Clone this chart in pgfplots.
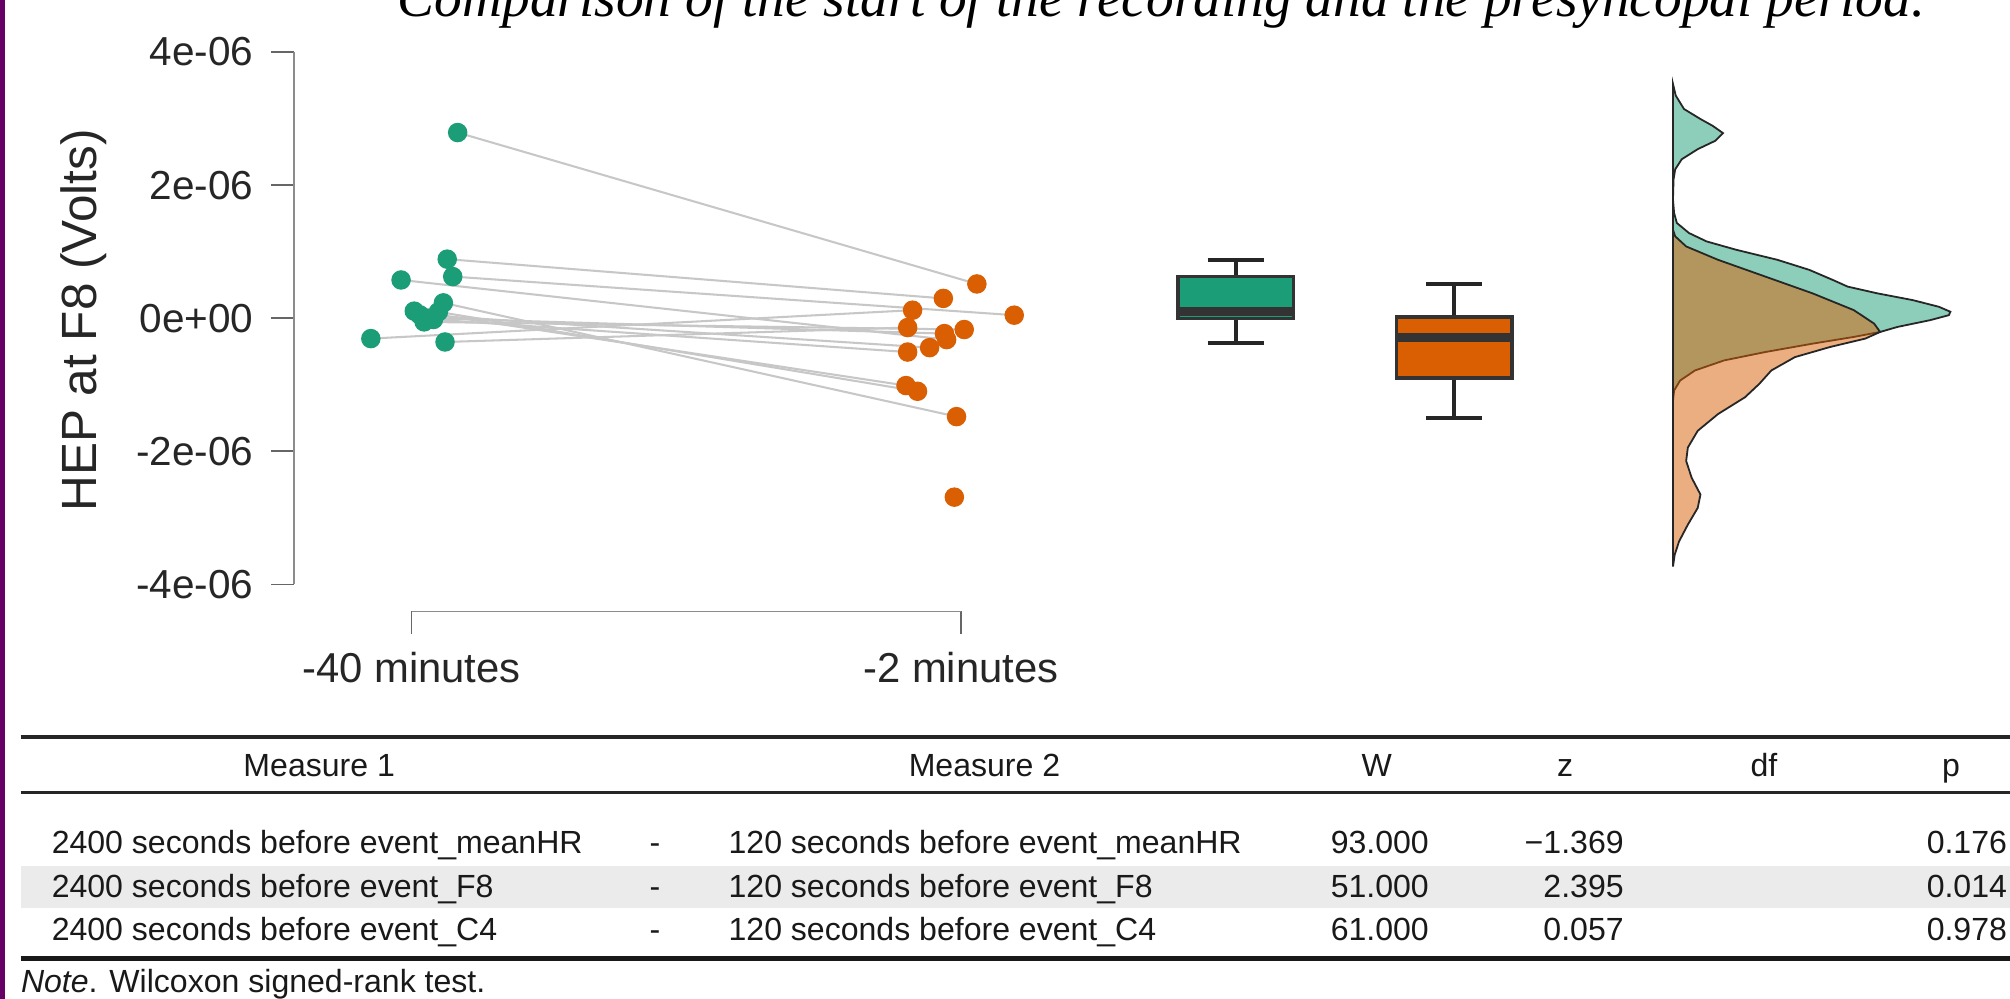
\documentclass[border=0pt]{standalone}
\usepackage{fontspec}
\setmainfont{Liberation Sans}
\newfontfamily\serifit{Liberation Serif}
\usepackage{pgfplots}
\pgfplotsset{compat=1.18}
\usepgfplotslibrary{statistics}
\definecolor{dkgreen}{HTML}{1B9E77}
\definecolor{dkorange}{HTML}{D95F02}
\definecolor{purp}{HTML}{660066}
\definecolor{txt}{HTML}{333333}
\begin{document}
\begin{tikzpicture}
\useasboundingbox (0,0) rectangle (784pt,389.5pt);
\clip (0,0) rectangle (784pt,389.5pt);
\fill[white] (0,0) rectangle (784pt,389.5pt);
\fill[purp] (0,0) rectangle (2pt,389.5pt);
\node[font=\serifit\itshape\fontsize{21.6}{26}\selectfont, anchor=base, inner sep=0pt] at (453pt,383pt) {Comparison of the start of the recording and the presyncopal period.};
\node[font=\fontsize{19.3}{23}\selectfont, rotate=90, anchor=base, inner sep=0pt, text=black!85] at (37.7pt,264.5pt) {HEP at F8 (Volts)};

\begin{axis}[at={(114.65pt,151pt)}, anchor=south west, x=214.3pt, y=25.95pt,
  xmin=0.786, xmax=3.9095, ymin=-4.408, ymax=4.8,
  axis x line*=bottom, axis y line*=left, axis line style={draw=none},
  xtick={1,2}, xticklabels={-40 minutes,-2 minutes},
  ytick={-4,-2,0,2,4}, yticklabels={-4e-06,-2e-06,0e+00,2e-06,4e-06},
  tick align=outside, major tick length=8.8pt,
  tick style={black!60, line width=0.6pt},
  yticklabel style={font=\fontsize{15.8}{19}\selectfont, text=black!85, xshift=-3.5pt},
  xticklabel style={font=\fontsize{16.3}{19}\selectfont, text=black!85, yshift=-3.5pt},
  clip=false]
\draw[black!45, line width=0.6pt] (axis cs:0.786,-4) -- (axis cs:0.786,4);
\draw[black!45, line width=0.6pt] (axis cs:1,-4.408) -- (axis cs:2,-4.408);

% connecting lines
\addplot[black!22, line width=0.8pt, forget plot] coordinates {(1.084,2.79) (2.029,0.514)};
\addplot[black!22, line width=0.8pt, forget plot] coordinates {(1.065,0.887) (1.968,0.297)};
\addplot[black!22, line width=0.8pt, forget plot] coordinates {(1.075,0.625) (2.097,0.045)};
\addplot[black!22, line width=0.8pt, forget plot] coordinates {(0.981,0.574) (1.974,-0.322)};
\addplot[black!22, line width=0.8pt, forget plot] coordinates {(0.926,-0.307) (1.912,0.12)};
\addplot[black!22, line width=0.8pt, forget plot] coordinates {(1.061,-0.358) (1.903,-0.141)};
\addplot[black!22, line width=0.8pt, forget plot] coordinates {(1.005,0.106) (1.900,-1.013)};
\addplot[black!22, line width=0.8pt, forget plot] coordinates {(1.023,-0.056) (2.006,-0.171)};
\addplot[black!22, line width=0.8pt, forget plot] coordinates {(1.049,0.095) (1.921,-1.099)};
\addplot[black!22, line width=0.8pt, forget plot] coordinates {(1.058,0.23) (1.992,-1.48)};
\addplot[black!22, line width=0.8pt, forget plot] coordinates {(1.03,0.0) (1.970,-0.232)};
\addplot[black!22, line width=0.8pt, forget plot] coordinates {(1.015,0.05) (1.943,-0.443)};
\addplot[black!22, line width=0.8pt, forget plot] coordinates {(1.04,-0.02) (1.903,-0.509)};

% points
\addplot[only marks, mark=*, mark size=3.6pt, dkgreen] coordinates {
(1.084,2.79) (1.065,0.887) (1.075,0.625) (0.981,0.574) (1.005,0.106) (1.023,-0.056)
(1.049,0.095) (1.058,0.23) (1.03,0.0) (1.015,0.05) (1.04,-0.02) (0.926,-0.307) (1.061,-0.358)};
\addplot[only marks, mark=*, mark size=3.6pt, dkorange] coordinates {
(2.029,0.514) (1.968,0.297) (1.912,0.12) (2.097,0.045) (1.903,-0.141) (1.970,-0.232)
(2.006,-0.171) (1.974,-0.322) (1.943,-0.443) (1.903,-0.509) (1.900,-1.013) (1.921,-1.099)
(1.992,-1.48) (1.988,-2.69)};

% boxplots
\addplot[boxplot prepared={draw position=2.5, lower whisker=-0.37, lower quartile=0.0,
  median=0.094, upper quartile=0.625, upper whisker=0.877, box extend=0.21,
  whisker extend=0.102, draw direction=y,
  every box/.style={fill=dkgreen, draw=txt, line width=1.3pt},
  every whisker/.style={draw=black!85, line width=1.6pt},
  every median/.style={draw=txt, line width=3.5pt}}] coordinates {};
\addplot[boxplot prepared={draw position=2.898, lower whisker=-1.50, lower quartile=-0.897,
  median=-0.287, upper quartile=0.02, upper whisker=0.514, box extend=0.21,
  whisker extend=0.102, draw direction=y,
  every box/.style={fill=dkorange, draw=txt, line width=1.3pt},
  every whisker/.style={draw=black!85, line width=1.6pt},
  every median/.style={draw=txt, line width=3.5pt}}] coordinates {};

% densities
\addplot[fill=dkgreen, fill opacity=0.5, draw=black!85, line width=0.7pt] coordinates {
(3.296,3.52) (3.301,3.346) (3.316,3.144) (3.346,2.993) (3.368,2.892) (3.387,2.782)
(3.373,2.666) (3.341,2.540) (3.312,2.389) (3.300,2.237) (3.297,2.086) (3.296,1.784)
(3.298,1.582) (3.303,1.431) (3.325,1.280) (3.357,1.154) (3.411,1.028) (3.486,0.877)
(3.544,0.726) (3.587,0.574) (3.614,0.474) (3.668,0.373) (3.732,0.272) (3.780,0.171)
(3.801,0.096) (3.798,0.045) (3.764,-0.030) (3.705,-0.131) (3.673,-0.207) (3.625,-0.282)
(3.550,-0.383) (3.464,-0.509) (3.389,-0.635) (3.336,-0.786) (3.309,-0.937) (3.298,-1.088)
(3.296,-1.240)} -- cycle;
\addplot[fill=dkorange, fill opacity=0.5, draw=black!85, line width=0.7pt] coordinates {
(3.296,1.330) (3.300,1.230) (3.320,1.078) (3.378,0.877) (3.464,0.625) (3.550,0.373)
(3.625,0.121) (3.662,-0.081) (3.673,-0.207) (3.646,-0.307) (3.582,-0.433) (3.518,-0.585)
(3.475,-0.786) (3.453,-0.988) (3.427,-1.189) (3.378,-1.441) (3.341,-1.693) (3.323,-1.945)
(3.320,-2.147) (3.330,-2.399) (3.346,-2.651) (3.341,-2.852) (3.323,-3.104) (3.307,-3.356)
(3.299,-3.558) (3.296,-3.734)} -- cycle;
\end{axis}

% table
\fill[black!8] (8pt,35.3pt) rectangle (784pt,51.7pt);
\draw[line width=1.3pt, black!85] (8pt,102pt) -- (784pt,102pt);
\draw[line width=1.3pt, black!85] (8pt,80.25pt) -- (784pt,80.25pt);
\draw[line width=2pt, black!90] (8pt,15.5pt) -- (784pt,15.5pt);
\begin{scope}[every node/.style={font=\fontsize{12.5}{15}\selectfont, inner sep=0pt, text=black!90}]
\node[anchor=base] at (124.5pt,86.5pt) {Measure 1};
\node[anchor=base] at (384pt,86.5pt) {Measure 2};
\node[anchor=base] at (537pt,86.5pt) {W};
\node[anchor=base] at (610.5pt,86.5pt) {z};
\node[anchor=base] at (688pt,86.5pt) {df};
\node[anchor=base] at (761pt,86.5pt) {p};
\node[anchor=base west] at (20pt,56.75pt) {2400 seconds before event\_meanHR};
\node[anchor=base west] at (20pt,39.6pt) {2400 seconds before event\_F8};
\node[anchor=base west] at (20pt,22.6pt) {2400 seconds before event\_C4};
\node[anchor=base] at (255.5pt,56.75pt) {-};
\node[anchor=base] at (255.5pt,39.6pt) {-};
\node[anchor=base] at (255.5pt,22.6pt) {-};
\node[anchor=base west] at (284pt,56.75pt) {120 seconds before event\_meanHR};
\node[anchor=base west] at (284pt,39.6pt) {120 seconds before event\_F8};
\node[anchor=base west] at (284pt,22.6pt) {120 seconds before event\_C4};
\node[anchor=base east] at (557.5pt,56.75pt) {93.000};
\node[anchor=base east] at (557.5pt,39.6pt) {51.000};
\node[anchor=base east] at (557.5pt,22.6pt) {61.000};
\node[anchor=base east] at (633.5pt,56.75pt) {−1.369};
\node[anchor=base east] at (633.5pt,39.6pt) {2.395};
\node[anchor=base east] at (633.5pt,22.6pt) {0.057};
\node[anchor=base east] at (783pt,56.75pt) {0.176};
\node[anchor=base east] at (783pt,39.6pt) {0.014};
\node[anchor=base east] at (783pt,22.6pt) {0.978};
\node[anchor=base west] at (8pt,2.5pt) {\textit{Note}. Wilcoxon signed-rank test.};
\end{scope}
\end{tikzpicture}
\end{document}
